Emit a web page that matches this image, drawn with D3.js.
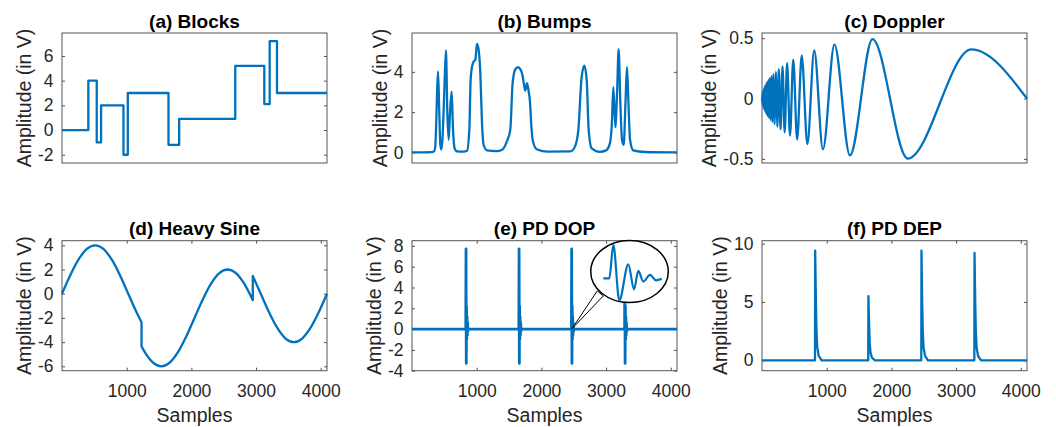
<!DOCTYPE html>
<html>
<head>
<meta charset="utf-8">
<script src="https://cdn.jsdelivr.net/npm/d3@7"></script>
<style>
  html, body { margin: 0; padding: 0; background: #fff; }
  svg { display: block; font-family: "Liberation Sans", Arial, Helvetica, sans-serif; }
</style>
</head>
<body>
<div id="chart"></div>
<script>
// ---- data (x in samples, y in volts) ----
const sampleTicks = [1000, 2000, 3000, 4000];

// (a) Blocks: step edges and the level held after each edge
const blocksX = [0, 407, 537, 604, 950, 1017, 1646, 1811, 2678, 3127, 3210, 3323, 4096];
const blocksY = [0, 4, -1, 2, -2, 3, -1.2, 0.9, 5.2, 2.1, 7.2, 3, 3];

// (b) Bumps
const bumpsX = [0, 300, 340, 360, 371, 386, 402, 422, 438, 453, 470, 490, 505, 525, 546, 567, 587, 613, 634, 659, 695,
  800, 850, 886, 906, 927, 953, 979, 1004, 1030, 1056, 1082, 1107, 1159, 1300, 1400, 1460, 1519, 1555, 1597, 1638,
  1700, 1735, 1751, 1777, 1800, 1824, 1845, 1865, 1927, 2100, 2450, 2520, 2571, 2623, 2664, 2700, 2731, 2777, 2900,
  3000, 3060, 3090, 3112, 3143, 3170, 3194, 3220, 3246, 3272, 3300, 3323, 3345, 3370, 3421, 3600, 4096];
const bumpsY = [0, 0.02, 0.05, 0.3, 1.1, 2.8, 4.02, 1.95, 0.38, 0.15, 0.6, 2.2, 3.6, 5.06, 1.95, 0.63, 1.95, 3.02, 1.12, 0.2, 0.05,
  0.04, 0.08, 1.12, 3.6, 4.25, 4.51, 4.6, 5.39, 5.1, 3.94, 1.45, 0.38, 0.1, 0.06, 0.15, 0.5, 1.12, 3.44, 4.13, 4.23,
  3.94, 3.3, 3.07, 3.44, 3.1, 2.5, 1.3, 0.63, 0.16, 0.04, 0.05, 0.3, 1.12, 3.77, 4.31, 3.6, 1.12, 0.2, 0.03,
  0.1, 0.46, 1.5, 3.24, 1.26, 3.0, 5.13, 2.5, 0.63, 0.38, 2.5, 4.23, 2.5, 0.63, 0.1, 0.02, 0];

// (c) Doppler: turning points of the chirp
const dopplerX = [0, 2, 8, 13, 19, 25, 31, 37, 45, 52, 60, 68, 77, 87, 97, 108, 120, 133, 146, 161, 177, 195, 215, 236,
  260, 287, 317, 350, 388, 433, 483, 543, 614, 701, 807, 942, 1119, 1359, 1707, 2253, 3236, 4096];
const dopplerY = [0, -0.025, 0.043, -0.056, 0.067, -0.077, 0.087, -0.095, 0.104, -0.112, 0.120, -0.128, 0.136, -0.144,
  0.152, -0.160, 0.169, -0.177, 0.186, -0.195, 0.204, -0.213, 0.223, -0.233, 0.244, -0.255, 0.267, -0.280, 0.293,
  -0.307, 0.323, -0.339, 0.357, -0.377, 0.398, -0.421, 0.446, -0.471, 0.493, -0.497, 0.407, 0];

// (d) Heavy Sine, three pieces split at the two jumps
const heavyX1 = [0, 128, 256, 384, 512, 640, 768, 896, 1024, 1152, 1229];
const heavyY1 = [0, 1.53, 2.83, 3.70, 4, 3.70, 2.83, 1.53, 0, -1.53, -2.35];
const heavyX2 = [1229, 1280, 1408, 1536, 1664, 1792, 1920, 2048, 2176, 2304, 2432, 2560, 2688, 2816, 2949];
const heavyY2 = [-4.35, -4.83, -5.70, -6, -5.70, -4.83, -3.53, -2, -0.47, 0.83, 1.70, 2, 1.70, 0.83, -0.53];
const heavyX3 = [2949, 3072, 3200, 3328, 3456, 3584, 3712, 3840, 3968, 4096];
const heavyY3 = [1.47, 0, -1.53, -2.83, -3.70, -4, -3.70, -2.83, -1.53, 0];

// (e) PD DOP: pulse starts and the damped oscillation of one pulse
const dopPulses = [835, 1655, 2468, 3290];
const dopOffsets = [-4, 0, 4, 8, 12, 16, 20, 25, 30, 38];
const dopValues = [0, 7.7, -3.3, 2.2, -1.0, 1.2, -0.6, 0.6, -0.2, 0];
// zoomed view in the ellipse
const zoomX = [0, 6, 10, 16, 25, 30.7, 35, 40, 46.7, 52.7, 58.4];
const zoomY = [0, 0, 7.8, -5.14, 3.27, -2.57, 1.73, -0.77, 0.79, -0.47, -0.14];

// (f) PD DEP: pulse starts, peak heights and the decay of one pulse
const depPulses = [822, 1645, 2465, 3285];
const depPeaks = [9.4, 5.5, 9.4, 9.2];
const depOffsets = [-3, 0, 6, 12, 20, 32, 55, 100];
const depDecay = [0, 1, 0.75, 0.5, 0.27, 0.12, 0.04, 0];

// ---- build point lists ----
const zip = (xs, ys) => xs.map((x, i) => [x, ys[i]]);

const dopPoints = [[0, 0]];
dopPulses.forEach((p) => dopOffsets.forEach((o, i) => dopPoints.push([p + o, dopValues[i]])));
dopPoints.push([4096, 0]);

const depPoints = [[0, 0]];
depPulses.forEach((p, k) => depOffsets.forEach((o, i) => depPoints.push([p + o, depPeaks[k] * depDecay[i]])));
depPoints.push([4096, 0]);

// ---- layout ----
const W = 1056, H = 427;
const pw = 265, ph = 130;
const blue = "#0072BD";
const ink = "#262626";

const panels = [
  { title: "(a) Blocks", left: 62, top: 33, yDomain: [-2.67, 7.86], yTicks: [-2, 0, 2, 4, 6],
    segments: [zip(blocksX, blocksY)], curve: d3.curveStepAfter },
  { title: "(b) Bumps", left: 412, top: 33, yDomain: [-0.525, 5.93], yTicks: [0, 2, 4],
    segments: [zip(bumpsX, bumpsY)], curve: d3.curveMonotoneX },
  { title: "(c) Doppler", left: 762, top: 33, yDomain: [-0.534, 0.543], yTicks: [-0.5, 0, 0.5],
    segments: [zip(dopplerX, dopplerY)], curve: d3.curveMonotoneX },
  { title: "(d) Heavy Sine", left: 62, top: 240.7, yDomain: [-6.36, 4.38], yTicks: [-6, -4, -2, 0, 2, 4],
    segments: [zip(heavyX1, heavyY1), zip(heavyX2, heavyY2), zip(heavyX3, heavyY3)], curve: d3.curveMonotoneX, xAxis: true },
  { title: "(e) PD DOP", left: 412, top: 240.7, yDomain: [-4, 8.5], yTicks: [-4, -2, 0, 2, 4, 6, 8],
    segments: [dopPoints], curve: d3.curveLinear, xAxis: true, inset: true, lw: 2.8 },
  { title: "(f) PD DEP", left: 762, top: 240.7, yDomain: [-0.89, 10.25], yTicks: [0, 5, 10],
    segments: [depPoints], curve: d3.curveLinear, xAxis: true },
];

const svg = d3.select("#chart").append("svg").attr("width", W).attr("height", H);
svg.append("rect").attr("width", W).attr("height", H).attr("fill", "#fff");

panels.forEach((p) => {
  const x = d3.scaleLinear().domain([0, 4096]).range([p.left, p.left + pw]);
  const y = d3.scaleLinear().domain(p.yDomain).range([p.top + ph, p.top]);
  const g = svg.append("g");

  // left ticks + labels (ticks point inward)
  const yAxis = g.append("g")
    .attr("transform", `translate(${p.left},0)`)
    .call(d3.axisLeft(y).tickValues(p.yTicks).tickSize(-3).tickPadding(8.5).tickFormat((d) => String(d)));
  // right ticks
  g.append("g")
    .attr("transform", `translate(${p.left + pw},0)`)
    .call(d3.axisRight(y).tickValues(p.yTicks).tickSize(-3).tickFormat(""));

  if (p.xAxis) {
    g.append("g")
      .attr("transform", `translate(0,${p.top + ph})`)
      .call(d3.axisBottom(x).tickValues(sampleTicks).tickSize(-3).tickPadding(14).tickFormat((d) => String(d)));
    g.append("g")
      .attr("transform", `translate(0,${p.top})`)
      .call(d3.axisTop(x).tickValues(sampleTicks).tickSize(-3).tickFormat(""));
    g.append("text")
      .attr("x", p.left + pw / 2)
      .attr("y", 422)
      .attr("text-anchor", "middle")
      .attr("font-size", "19.5px")
      .attr("fill", ink)
      .text("Samples");
  }

  g.selectAll(".domain").remove();
  g.selectAll(".tick line").attr("stroke", ink).attr("stroke-width", 0.8);
  g.selectAll(".tick text").attr("font-size", "17.5px").attr("fill", ink).attr("font-family", null);

  // box
  g.append("rect")
    .attr("x", p.left).attr("y", p.top)
    .attr("width", pw).attr("height", ph)
    .attr("fill", "none").attr("stroke", "#555").attr("stroke-width", 1);

  // y label, placed left of the widest tick label
  let maxW = 0;
  yAxis.selectAll(".tick text").each(function () { maxW = Math.max(maxW, this.getBBox().width); });
  const lx = p.left - 8.5 - maxW - 7;
  g.append("text")
    .attr("transform", `translate(${lx},${p.top + ph / 2}) rotate(-90)`)
    .attr("text-anchor", "middle")
    .attr("font-size", "19.5px")
    .attr("fill", ink)
    .text("Amplitude (in V)");

  // title
  g.append("text")
    .attr("x", p.left + pw / 2)
    .attr("y", p.top - 5.5)
    .attr("text-anchor", "middle")
    .attr("font-size", "19px")
    .attr("font-weight", "bold")
    .attr("fill", "#000")
    .text(p.title);

  // signal
  const line = d3.line().x((d) => x(d[0])).y((d) => y(d[1])).curve(p.curve);
  const dPath = p.segments.map((s, i) => (i === 0 ? line(s) : line(s).replace(/^M/, "L"))).join("");
  g.append("path")
    .attr("d", dPath)
    .attr("fill", "none")
    .attr("stroke", blue)
    .attr("stroke-width", p.lw || 2.3)
    .attr("stroke-linejoin", "round");

  if (p.inset) {
    // callout ellipse with a zoom of one pulse
    const cx = x(3362), cy = y(5.53);
    const ax = x(dopPulses[2]), ay = y(0);
    g.append("path")
      .attr("d", `M${ax},${ay}L${cx - 32.2},${cy + 19.3}L${cx - 26.2},${cy + 24.3}Z`)
      .attr("fill", "#fff").attr("stroke", "#000").attr("stroke-width", 1);
    g.append("ellipse")
      .attr("cx", cx).attr("cy", cy).attr("rx", 38.8).attr("ry", 31)
      .attr("fill", "#fff").attr("stroke", "#000").attr("stroke-width", 1.5);
    const zx = d3.scaleLinear().domain([0, 58.4]).range([cx - 26.2, cx + 32.2]);
    const zy = d3.scaleLinear().domain([0, 7.8]).range([cy + 6.7, cy + 6.7 - 33.4]);
    g.append("path")
      .attr("d", d3.line().x((d) => zx(d[0])).y((d) => zy(d[1])).curve(d3.curveMonotoneX)(zip(zoomX, zoomY)))
      .attr("fill", "none").attr("stroke", blue).attr("stroke-width", 2.2);
  }
});
</script>
</body>
</html>
